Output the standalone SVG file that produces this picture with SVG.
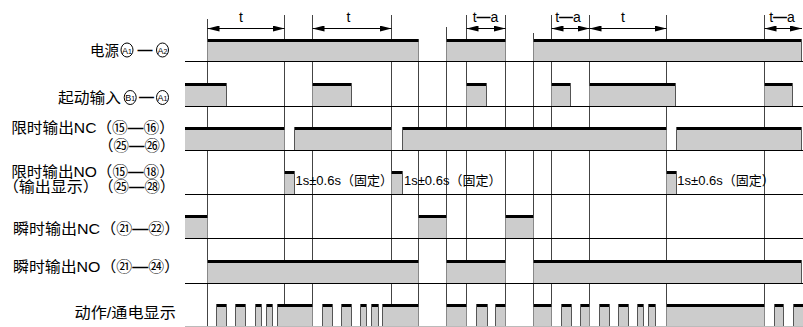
<svg xmlns="http://www.w3.org/2000/svg" width="803" height="327" viewBox="0 0 803 327">
<style>
.f{fill:#cccccc}
.t{fill:#000}
.e{stroke:#555;stroke-width:1;fill:none}
.b{stroke:#000;stroke-width:1}
.vl{stroke:#444;stroke-width:1}
.dim{stroke:#000;stroke-width:1}
.lb{font-family:"Liberation Sans","Noto Sans CJK SC",sans-serif;font-size:15px;fill:#000}
.sm{font-family:"Liberation Sans","Noto Sans CJK SC",sans-serif;font-size:13px;fill:#000}
.dl{font-family:"Liberation Sans","Noto Sans CJK SC",sans-serif;font-size:14px;fill:#000;text-anchor:middle}
.bd{font-weight:bold}
.cir{fill:none;stroke:#000;stroke-width:1}
.ct{font-family:"Liberation Sans",sans-serif;fill:#000;text-anchor:middle}
</style>
<defs>
<marker id="ah" viewBox="0 0 12 6" refX="12" refY="3" markerWidth="12" markerHeight="6" markerUnits="userSpaceOnUse" orient="auto-start-reverse"><path d="M0,0L12,3L0,6z" fill="#000"/></marker>
</defs>

<g id="connectors">
<g id="timing-lines" class="vl">
<line x1="207.5" y1="19" x2="207.5" y2="327"/>
<line x1="284.5" y1="15" x2="284.5" y2="327"/>
<line x1="312.5" y1="15" x2="312.5" y2="327"/>
<line x1="391.5" y1="15" x2="391.5" y2="327"/>
<line x1="418.5" y1="39" x2="418.5" y2="327"/>
<line x1="446.5" y1="27" x2="446.5" y2="327"/>
<line x1="466.5" y1="15" x2="466.5" y2="327"/>
<line x1="505.5" y1="15" x2="505.5" y2="327"/>
<line x1="533.5" y1="33" x2="533.5" y2="327"/>
<line x1="551.5" y1="15" x2="551.5" y2="327"/>
<line x1="589.5" y1="15" x2="589.5" y2="327"/>
<line x1="666.5" y1="15" x2="666.5" y2="327"/>
<line x1="764.5" y1="15" x2="764.5" y2="327"/>
</g>
<g id="dimensions">
<line class="dim" x1="207.5" y1="28.5" x2="284.5" y2="28.5" marker-start="url(#ah)" marker-end="url(#ah)"/>
<line class="dim" x1="312.5" y1="28.5" x2="391.5" y2="28.5" marker-start="url(#ah)" marker-end="url(#ah)"/>
<line class="dim" x1="466.5" y1="28.5" x2="505.5" y2="28.5" marker-start="url(#ah)" marker-end="url(#ah)"/>
<line class="dim" x1="551.5" y1="28.5" x2="589.5" y2="28.5" marker-start="url(#ah)" marker-end="url(#ah)"/>
<line class="dim" x1="589.5" y1="28.5" x2="666.5" y2="28.5" marker-start="url(#ah)" marker-end="url(#ah)"/>
<line class="dim" x1="764.5" y1="28.5" x2="802" y2="28.5" marker-start="url(#ah)" marker-end="url(#ah)"/>
<text class="dl" x="241" y="22">t</text>
<text class="dl" x="348.5" y="22">t</text>
<text class="dl" x="485.5" y="22">t<tspan class="bd">—</tspan>a</text>
<text class="dl" x="568" y="22">t<tspan class="bd">—</tspan>a</text>
<text class="dl" x="623" y="22">t</text>
<text class="dl" x="782" y="22">t<tspan class="bd">—</tspan>a</text>
</g>
</g>

<g id="row-power">
<text class="lb" x="90" y="55.7" textLength="29" lengthAdjust="spacingAndGlyphs">电源</text>
<ellipse class="cir" cx="127" cy="50" rx="6" ry="7"/>
<text class="ct" x="127" y="53.5"><tspan font-size="9">A</tspan><tspan font-size="7">1</tspan></text>
<text class="lb bd" x="145" y="54.5" text-anchor="middle">—</text>
<ellipse class="cir" cx="162.5" cy="50" rx="6" ry="7"/>
<text class="ct" x="162.5" y="53.5"><tspan font-size="9">A</tspan><tspan font-size="7">2</tspan></text>
<rect class="f" x="207.5" y="39" width="211" height="22"/>
<rect class="f" x="446.5" y="39" width="59" height="22"/>
<rect class="f" x="533.5" y="39" width="268" height="22"/>
<rect class="t" x="207.5" y="39" width="211" height="3"/>
<rect class="t" x="446.5" y="39" width="59" height="3"/>
<rect class="t" x="533.5" y="39" width="268" height="3"/>
<path class="e" d="M801.5,39V61"/>
<line class="b" x1="185" y1="61.5" x2="803" y2="61.5"/>
</g>

<g id="row-start">
<text class="lb" x="58" y="103.2" textLength="63" lengthAdjust="spacingAndGlyphs">起动输入</text>
<ellipse class="cir" cx="130.2" cy="97.5" rx="6" ry="7"/>
<text class="ct" x="130.2" y="101"><tspan font-size="9">B</tspan><tspan font-size="7">1</tspan></text>
<text class="lb bd" x="146.5" y="102" text-anchor="middle">—</text>
<ellipse class="cir" cx="162.5" cy="97.5" rx="6" ry="7"/>
<text class="ct" x="162.5" y="101"><tspan font-size="9">A</tspan><tspan font-size="7">1</tspan></text>
<rect class="f" x="185" y="83" width="41.5" height="23"/>
<rect class="f" x="312.5" y="83" width="39" height="23"/>
<rect class="f" x="466.5" y="83" width="20" height="23"/>
<rect class="f" x="551.5" y="83" width="19" height="23"/>
<rect class="f" x="589.5" y="83" width="86" height="23"/>
<rect class="f" x="764.5" y="83" width="28" height="23"/>
<rect class="t" x="185" y="83" width="41.5" height="3"/>
<rect class="t" x="312.5" y="83" width="39" height="3"/>
<rect class="t" x="466.5" y="83" width="20" height="3"/>
<rect class="t" x="551.5" y="83" width="19" height="3"/>
<rect class="t" x="589.5" y="83" width="86" height="3"/>
<rect class="t" x="764.5" y="83" width="28" height="3"/>
<path class="e" d="M226.5,83V106M351.5,83V106M486.5,83V106M570.5,83V106M675.5,83V106M792.5,83V106"/>
<line class="b" x1="185" y1="106.5" x2="803" y2="106.5"/>
</g>

<g id="row-timed-nc">
<text class="lb" x="11.2" y="133.2" textLength="163.6" lengthAdjust="spacingAndGlyphs">限时输出NC（⑮<tspan class="bd">—</tspan>⑯）</text>
<text class="lb" x="98.2" y="150.8" textLength="77" lengthAdjust="spacingAndGlyphs">（㉕<tspan class="bd">—</tspan>㉖）</text>
<rect class="f" x="185" y="127" width="99.5" height="23"/>
<rect class="f" x="294.5" y="127" width="97" height="23"/>
<rect class="f" x="402.5" y="127" width="264" height="23"/>
<rect class="f" x="676.5" y="127" width="125" height="23"/>
<rect class="t" x="185" y="127" width="99.5" height="3"/>
<rect class="t" x="294.5" y="127" width="97" height="3"/>
<rect class="t" x="402.5" y="127" width="264" height="3"/>
<rect class="t" x="676.5" y="127" width="125" height="3"/>
<path class="e" d="M294.5,127V150M402.5,127V150M676.5,127V150M801.5,127V150"/>
<line class="b" x1="185" y1="150.5" x2="803" y2="150.5"/>
</g>

<g id="row-timed-no">
<text class="lb" x="11.2" y="176.5" textLength="163.6" lengthAdjust="spacingAndGlyphs">限时输出NO（⑮<tspan class="bd">—</tspan>⑱）</text>
<text class="lb" x="2.9" y="192.2" textLength="95.9" lengthAdjust="spacingAndGlyphs">（输出显示）</text>
<text class="lb" x="98.2" y="192.2" textLength="77" lengthAdjust="spacingAndGlyphs">（㉕<tspan class="bd">—</tspan>㉘）</text>
<rect class="f" x="284.5" y="171" width="10" height="23"/>
<rect class="f" x="391.5" y="171" width="11" height="23"/>
<rect class="f" x="666.5" y="171" width="10" height="23"/>
<rect class="t" x="284.5" y="171" width="10" height="3"/>
<rect class="t" x="391.5" y="171" width="11" height="3"/>
<rect class="t" x="666.5" y="171" width="10" height="3"/>
<path class="e" d="M294.5,171V194M402.5,171V194M676.5,171V194"/>
<text class="sm" x="295.5" y="185">1s±0.6s（固定）</text>
<text class="sm" x="404" y="185">1s±0.6s（固定）</text>
<text class="sm" x="677.3" y="185">1s±0.6s（固定）</text>
<line class="b" x1="185" y1="194.5" x2="803" y2="194.5"/>
</g>

<g id="row-instant-nc">
<text class="lb" x="13" y="234.2" textLength="167.2" lengthAdjust="spacingAndGlyphs">瞬时输出NC（㉑<tspan class="bd">—</tspan>㉒）</text>
<rect class="f" x="185" y="215" width="22.5" height="23"/>
<rect class="f" x="418.5" y="215" width="28" height="23"/>
<rect class="f" x="505.5" y="215" width="28" height="23"/>
<rect class="t" x="185" y="215" width="22.5" height="3"/>
<rect class="t" x="418.5" y="215" width="28" height="3"/>
<rect class="t" x="505.5" y="215" width="28" height="3"/>
<line class="b" x1="185" y1="238.5" x2="803" y2="238.5"/>
</g>

<g id="row-instant-no">
<text class="lb" x="13" y="272.2" textLength="167" lengthAdjust="spacingAndGlyphs">瞬时输出NO（㉑<tspan class="bd">—</tspan>㉔）</text>
<rect class="f" x="207.5" y="260" width="211" height="23"/>
<rect class="f" x="446.5" y="260" width="59" height="23"/>
<rect class="f" x="533.5" y="260" width="268" height="23"/>
<rect class="t" x="207.5" y="260" width="211" height="3"/>
<rect class="t" x="446.5" y="260" width="59" height="3"/>
<rect class="t" x="533.5" y="260" width="268" height="3"/>
<path class="e" d="M801.5,260V283"/>
<line class="b" x1="185" y1="283.5" x2="803" y2="283.5"/>
</g>

<g id="row-indicator">
<text class="lb" x="74.5" y="318" textLength="101.3" lengthAdjust="spacingAndGlyphs">动作/通电显示</text>
<path class="f" d="M216.5,304H226.5V327H216.5zM235.5,304H245.5V327H235.5zM255.5,304H261.5V327H255.5zM266.5,304H272.5V327H266.5zM277.5,304H312.5V327H277.5zM322.5,304H332.5V327H322.5zM341.5,304H351.5V327H341.5zM360.5,304H366.5V327H360.5zM371.5,304H378.5V327H371.5zM382.5,304H418.5V327H382.5zM446.5,304H466.5V327H446.5zM476.5,304H487.5V327H476.5zM495.5,304H505.5V327H495.5zM533.5,304H551.5V327H533.5zM561.5,304H571.5V327H561.5zM580.5,304H589.5V327H580.5zM599.5,304H609.5V327H599.5zM618.5,304H628.5V327H618.5zM637.5,304H643.5V327H637.5zM648.5,304H655.5V327H648.5zM666.5,304H764.5V327H666.5zM774.5,304H783.5V327H774.5zM793.5,304H803V327H793.5z"/>
<path class="t" d="M216.5,304H226.5V307H216.5zM235.5,304H245.5V307H235.5zM255.5,304H261.5V307H255.5zM266.5,304H272.5V307H266.5zM277.5,304H312.5V307H277.5zM322.5,304H332.5V307H322.5zM341.5,304H351.5V307H341.5zM360.5,304H366.5V307H360.5zM371.5,304H378.5V307H371.5zM382.5,304H418.5V307H382.5zM446.5,304H466.5V307H446.5zM476.5,304H487.5V307H476.5zM495.5,304H505.5V307H495.5zM533.5,304H551.5V307H533.5zM561.5,304H571.5V307H561.5zM580.5,304H589.5V307H580.5zM599.5,304H609.5V307H599.5zM618.5,304H628.5V307H618.5zM637.5,304H643.5V307H637.5zM648.5,304H655.5V307H648.5zM666.5,304H764.5V307H666.5zM774.5,304H783.5V307H774.5zM793.5,304H803V307H793.5z"/>
<path class="e" d="M216.5,304V327M226.5,304V327M235.5,304V327M245.5,304V327M255.5,304V327M261.5,304V327M266.5,304V327M272.5,304V327M277.5,304V327M322.5,304V327M332.5,304V327M341.5,304V327M351.5,304V327M360.5,304V327M366.5,304V327M371.5,304V327M378.5,304V327M382.5,304V327M476.5,304V327M487.5,304V327M495.5,304V327M561.5,304V327M571.5,304V327M580.5,304V327M599.5,304V327M609.5,304V327M618.5,304V327M628.5,304V327M637.5,304V327M643.5,304V327M648.5,304V327M655.5,304V327M774.5,304V327M783.5,304V327M793.5,304V327"/>
<line x1="185" y1="326.5" x2="803" y2="326.5" stroke="#bbb" stroke-width="1"/>
</g>
</svg>
